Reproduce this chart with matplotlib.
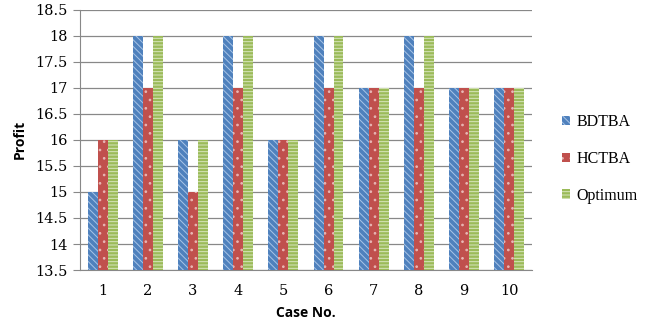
import numpy as np
import matplotlib.pyplot as plt
from matplotlib.patches import Patch

cases = ['1', '2', '3', '4', '5', '6', '7', '8', '9', '10']
bdtba = [15, 18, 16, 18, 16, 18, 17, 18, 17, 17]
hctba = [16, 17, 15, 17, 16, 17, 17, 17, 17, 17]
optimum = [16, 18, 16, 18, 16, 18, 17, 18, 17, 17]
series = ['BDTBA', 'HCTBA', 'Optimum']

colors = ['#4F81BD', '#C0504D', '#9BBB59']
hatch_cols = ['#A9C4E6', '#E8B7B5', '#D8E6BE']
hatches = ['\\\\\\\\\\', '..', '-----']

plt.rcParams['hatch.linewidth'] = 0.7

fig = plt.figure(figsize=(6.64, 3.31), dpi=100)
ax = fig.add_axes([0.1205, 0.184, 0.6805, 0.787])

x = np.arange(len(cases))
w = 0.22
handles = []
for i, (vals, c, hc, h) in enumerate(zip([bdtba, hctba, optimum], colors, hatch_cols, hatches)):
    ax.bar(x + (i - 1) * w, np.array(vals) - 13.5, w, bottom=13.5, color=c,
           hatch=h, edgecolor=hc, linewidth=0, zorder=3)
    handles.append(Patch(facecolor=c, hatch=h, edgecolor=hc, linewidth=0))

ax.set_xlim(-0.5, len(cases) - 0.5)
ax.set_ylim(13.5, 18.5)
ax.set_yticks(np.arange(13.5, 18.51, 0.5))
ax.set_yticklabels(['13.5', '14', '14.5', '15', '15.5', '16', '16.5', '17', '17.5', '18', '18.5'])
ax.set_xticks(x)
ax.set_xticklabels(cases)
ax.grid(axis='y', color='#888888', linewidth=0.9, zorder=0)
for s in ['top', 'right']:
    ax.spines[s].set_visible(False)
ax.spines['left'].set_color('#888888')
ax.spines['bottom'].set_color('#888888')
ax.tick_params(axis='y', length=5, color='#888888', pad=4)
ax.tick_params(axis='x', length=0, pad=10)
for t in ax.get_xticklabels() + ax.get_yticklabels():
    t.set_family('DejaVu Serif')
    t.set_fontsize(10.5)

ax.set_ylabel('Profit', fontsize=10, fontweight='bold', family='Open Sans', labelpad=6)
ax.set_xlabel('Case No.', fontsize=10, fontweight='bold', family='Open Sans', labelpad=6)

fig.legend(handles, series, loc='center left', bbox_to_anchor=(0.825, 0.52),
           frameon=False, prop={'family': 'Liberation Serif', 'size': 11.5},
           handlelength=0.5, handleheight=0.5, labelspacing=1.3, handletextpad=0.4)

plt.savefig('out.png', dpi=100)
